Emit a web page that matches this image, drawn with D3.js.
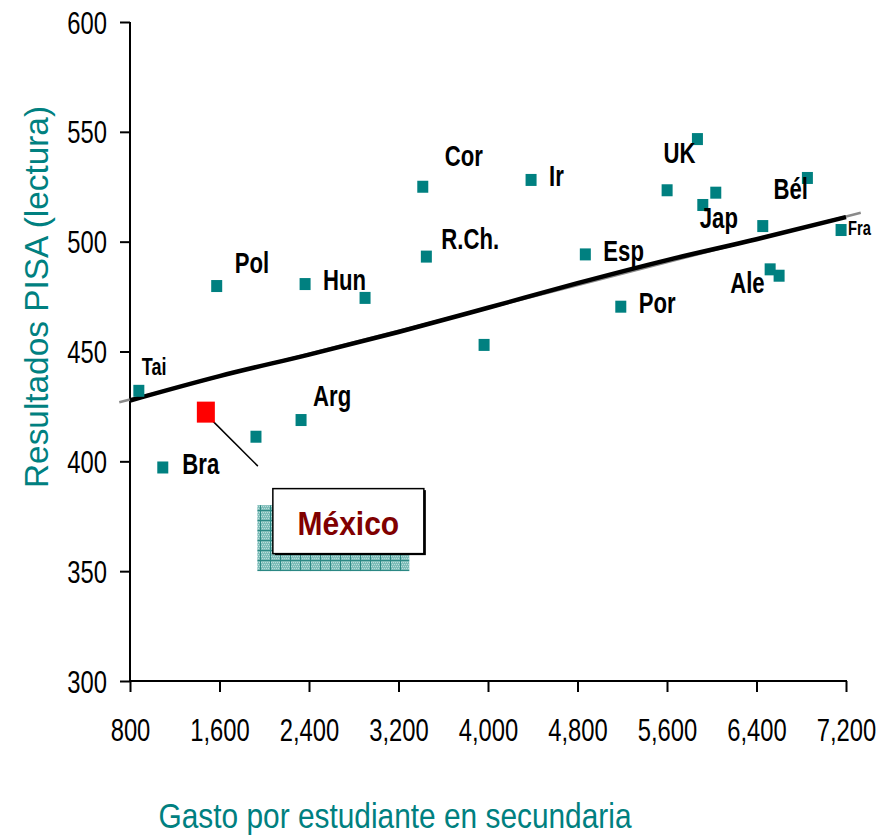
<!DOCTYPE html>
<html><head><meta charset="utf-8">
<script src="https://cdn.jsdelivr.net/npm/d3@7"></script>
<style>body{margin:0;background:#fff} svg{display:block}</style>
</head><body><svg id="c" width="890" height="836"></svg>
<script>
// ---- data ----
const labels = ["Tai","Bra","","Arg","Pol","Hun","","Cor","R.Ch.","","Ir","Esp","Por","","UK","Jap","","","Ale","","Bél","Fra"];
const gasto  = [879,1093,1926,2329,1575,2365,2901,3417,3449,3965,4385,4870,5187,5601,5872,5920,6036,6456,6522,6602,6855,7156];
const pisa   = [432.1,397.2,411.2,418.8,479.8,480.7,474.4,525.0,493.2,453.0,528.1,494.2,470.4,523.4,546.7,516.7,522.3,507.1,487.4,484.5,529.0,505.3];
const mexicoName = ["México"];
const mexicoGasto = [1478];
const mexicoPisa = [422.4];
const trendX = [800,1600,2400,3200,4000,4800,5600,6400,7200];
const trendY = [427.7,438.8,448.6,458.9,469.9,481.1,491.6,501.1,511.2];
const refX = [704,7332];
const refY = [426.9,513.2];
const xTicks = [800,1600,2400,3200,4000,4800,5600,6400,7200];
const yTicks = [300,350,400,450,500,550,600];
const xTitle = "Gasto por estudiante en secundaria";
const yTitle = "Resultados PISA (lectura)";

// ---- label placement (pixels) ----
const labelOffset = {
  "Tai":[3,-16,22],"Bra":[19.5,7,27],"Arg":[12,-14,27],"Pol":[18,-13,27],"Hun":[18,6,27],
  "Cor":[22,-21,27],"R.Ch.":[15,-8,27],"Ir":[18,6,27],"Esp":[18,7,27],"Por":[18,6,27],
  "UK":[-34,24,27],"Jap":[-3,23,27],"Ale":[-40,24,27],"Bél":[-34,21,27],"Fra":[7,5,18]
};

const svg = d3.select("#c");
const teal = "#008080";
const x = d3.scaleLinear().domain([800,7200]).range([130,846]);
const y = d3.scaleLinear().domain([300,600]).range([681,22]);
const SANS = "'Liberation Sans',Arial,sans-serif";
const VS = 1.12;   // vertical stretch of the original picture
const NX = 0.82;   // narrow face emulation

// pattern for callout shadow
const defs = svg.append("defs");
const pat = defs.append("pattern").attr("id","hatch").attr("patternUnits","userSpaceOnUse")
  .attr("width",10).attr("height",10);
pat.append("rect").attr("width",10).attr("height",10).attr("fill","#7dbcb8");
for (let i=0;i<10;i+=2) for (let j=0;j<10;j+=2){
  pat.append("rect").attr("x",i+((j/2)%2)).attr("y",j).attr("width",1).attr("height",1).attr("fill","#b9dedb");
}
pat.append("rect").attr("x",0).attr("y",0).attr("width",10).attr("height",1).attr("fill","#2b8884");
pat.append("rect").attr("x",0).attr("y",0).attr("width",1).attr("height",10).attr("fill","#2b8884");

// axes
const gx = svg.append("g").attr("transform","translate(0,681)")
  .call(d3.axisBottom(x).tickValues(xTicks).tickSize(11).tickSizeOuter(0).tickFormat(d3.format(",")));
const gy = svg.append("g").attr("transform","translate(130,0)")
  .call(d3.axisLeft(y).tickValues(yTicks).tickSize(10).tickSizeOuter(0).tickFormat(d3.format("d")));
[gx,gy].forEach(g=>{
  g.select(".domain").attr("stroke","#000").attr("stroke-width",2);
  g.selectAll(".tick line").attr("stroke","#000").attr("stroke-width",2);
  g.selectAll("text").attr("font-family",SANS).attr("font-size",29).attr("fill","#000").attr("dy",null);
});
gx.selectAll("text").attr("x",0).attr("y",(741-681)/1.08).attr("transform",`scale(${NX},1.08)`);
gy.selectAll("text").attr("x",-23/NX).attr("y",11/1.08).attr("transform",`scale(${NX},1.08)`);
gy.select(".domain").attr("d",`M0,${y(600)}V${y(300)+1}`);
gx.select(".domain").attr("d",`M${x(800)-1},0H${x(7200)+1}`);

// axis titles
svg.append("text").attr("x",395).attr("y",828).attr("text-anchor","middle")
  .attr("font-family",SANS).attr("font-size",35).attr("fill",teal)
  .attr("textLength",473).attr("lengthAdjust","spacingAndGlyphs").text(xTitle);
svg.append("text").attr("transform","translate(48,297) rotate(-90)").attr("text-anchor","middle")
  .attr("font-family",SANS).attr("font-size",33).attr("fill",teal)
  .attr("textLength",382).attr("lengthAdjust","spacingAndGlyphs").text(yTitle);

// trend lines
const refPts = refX.map((v,i)=>[x(v),y(refY[i])]);
svg.append("path").attr("d",d3.line()(refPts)).attr("stroke","#8a8a8a").attr("stroke-width",2.5).attr("fill","none");
const trPts = trendX.map((v,i)=>[x(v),y(trendY[i])]);
svg.append("path").attr("d",d3.line().curve(d3.curveMonotoneX)(trPts)).attr("stroke","#000").attr("stroke-width",4.5).attr("fill","none");

// points
const pts = gasto.map((g,i)=>({g, p:pisa[i], l:labels[i]}));
svg.append("g").selectAll("rect").data(pts).join("rect")
  .attr("x",d=>x(d.g)-5.5).attr("y",d=>y(d.p)-6).attr("width",11).attr("height",12).attr("fill",teal);
svg.append("g").selectAll("text").data(pts.filter(d=>d.l)).join("text")
  .attr("transform",d=>{const o=labelOffset[d.l]; return `translate(${x(d.g)+o[0]},${y(d.p)+o[1]}) scale(${NX},${VS})`;})
  .attr("font-family",SANS).attr("font-weight","bold").attr("font-size",d=>labelOffset[d.l][2])
  .attr("fill","#000").text(d=>d.l);

// México callout
const mx = x(mexicoGasto[0]), my = y(mexicoPisa[0]);
svg.append("line").attr("x1",mx+6).attr("y1",my+8).attr("x2",mx+52).attr("y2",my+54).attr("stroke","#000").attr("stroke-width",1.5);
svg.append("rect").attr("x",mx+51.5).attr("y",my+93).attr("width",152).attr("height",66).attr("fill","url(#hatch)");
svg.append("rect").attr("x",mx+69).attr("y",my+78).attr("width",151).attr("height",65).attr("fill","#000");
svg.append("rect").attr("x",mx+67).attr("y",my+76.5).attr("width",151).attr("height",65).attr("fill","#fff").attr("stroke","#000").attr("stroke-width",1.5);
svg.append("text").attr("transform",`translate(${mx+142.5},${my+123}) scale(1,${VS})`).attr("text-anchor","middle")
  .attr("font-family",SANS).attr("font-weight","bold").attr("font-size",30).attr("fill","#800000").text(mexicoName[0]);
svg.append("rect").attr("x",mx-9).attr("y",my-10.5).attr("width",18).attr("height",21).attr("fill","#ff0000");
</script></body></html>
